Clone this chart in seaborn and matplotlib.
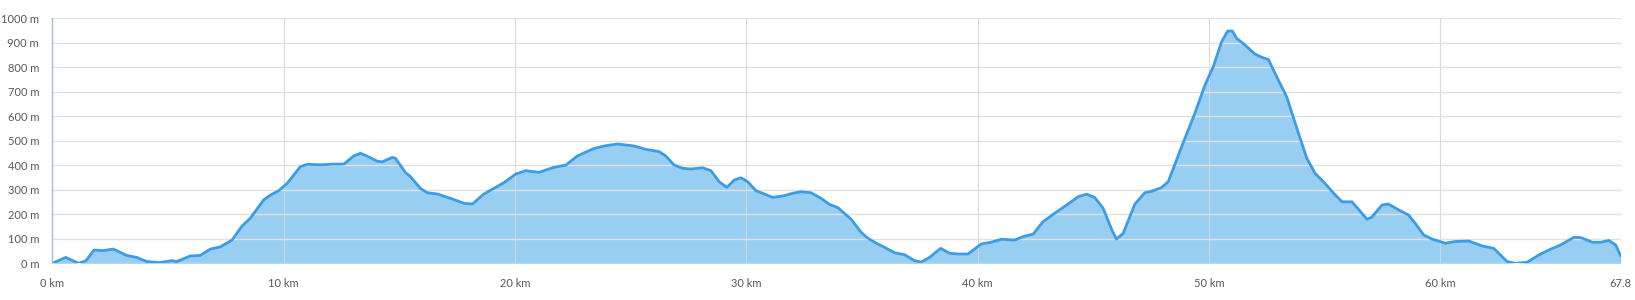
import matplotlib
matplotlib.use("Agg")
import matplotlib.pyplot as plt
import seaborn as sns
import pandas as pd

distance_km = [0.0, 0.58, 1.13, 1.45, 1.8, 2.2, 2.64, 3.22, 3.65, 4.09, 4.66, 5.17, 5.38, 5.96, 6.39,
               6.83, 7.26, 7.77, 8.2, 8.56, 9.13, 9.42, 9.78, 10.15, 10.72, 11.01, 11.6, 12.16, 12.6,
               13.03, 13.32, 13.6, 14.04, 14.26, 14.69, 14.83, 15.27, 15.48, 15.92, 16.21, 16.64, 17.22,
               17.79, 18.16, 18.66, 19.52, 20.03, 20.46, 21.04, 21.62, 22.2, 22.7, 23.42, 23.93, 24.43,
               25.15, 25.66, 26.23, 26.52, 26.88, 27.25, 27.6, 28.11, 28.47, 28.83, 29.16, 29.48, 29.77,
               30.06, 30.42, 30.78, 31.14, 31.65, 32.01, 32.37, 32.8, 33.23, 33.59, 33.96, 34.53, 34.97,
               35.26, 35.62, 35.98, 36.42, 36.84, 37.27, 37.56, 37.92, 38.4, 38.79, 39.15, 39.58, 40.16,
               40.59, 41.03, 41.6, 42.04, 42.4, 42.83, 43.33, 43.91, 44.35, 44.71, 45.06, 45.43, 45.79,
               46.0, 46.29, 46.8, 47.23, 47.52, 47.95, 48.24, 48.82, 49.39, 49.83, 50.19, 50.55, 50.81,
               51.01, 51.2, 51.56, 51.99, 52.28, 52.57, 53.0, 53.36, 53.87, 54.23, 54.59, 54.95, 55.39,
               55.75, 56.18, 56.47, 56.83, 57.04, 57.48, 57.76, 58.2, 58.63, 58.92, 59.28, 59.64, 60.22,
               60.65, 61.23, 61.81, 62.31, 62.89, 63.25, 63.75, 64.26, 64.69, 65.2, 65.78, 66.07, 66.57,
               66.93, 67.29, 67.58, 67.8]
elevation_m = [0, 24, 0, 10, 54, 52, 58, 32, 24, 7, 3, 11, 7, 30, 32,
               58, 67, 95, 152, 184, 258, 278, 296, 326, 394, 404, 402, 405, 405,
               438, 449, 438, 417, 414, 432, 429, 370, 354, 305, 288, 283, 265,
               245, 242, 283, 329, 364, 378, 371, 390, 401, 438, 469, 480, 487,
               479, 465, 456, 438, 401, 388, 385, 390, 378, 333, 310, 340, 349,
               333, 296, 283, 269, 276, 286, 292, 288, 265, 241, 227, 180, 126,
               102, 82, 65, 43, 35, 11, 5, 24, 61, 41, 38, 38, 79,
               86, 98, 95, 111, 119, 170, 204, 242, 272, 282, 269, 224, 139,
               99, 122, 242, 288, 294, 309, 333, 476, 612, 728, 803, 905, 948,
               948, 918, 891, 854, 841, 832, 748, 680, 531, 429, 367, 333, 286,
               251, 251, 220, 180, 188, 238, 242, 218, 197, 163, 116, 99, 82,
               89, 91, 71, 61, 7, 0, 4, 34, 54, 75, 106, 105, 86,
               86, 93, 75, 30]

x_ticks = [0, 10, 20, 30, 40, 50, 60, 67.8]
x_tick_labels = ["0 km", "10 km", "20 km", "30 km", "40 km", "50 km", "60 km", "67.8"]
y_ticks = [0, 100, 200, 300, 400, 500, 600, 700, 800, 900, 1000]
y_tick_labels = [f"{v} m" for v in y_ticks]

df = pd.DataFrame({"km": distance_km, "m": elevation_m})

sns.set_style("white")
plt.rcParams["font.family"] = ["Lato", "DejaVu Sans"]

fig = plt.figure(figsize=(16.35, 3.0), dpi=100)
ax = fig.add_axes([52.3 / 1635, 1 - 263.3 / 300, (1620.7 - 52.3) / 1635, (263.3 - 18.3) / 300])

ax.fill_between(df["km"], df["m"], 0, color="#99cef3", linewidth=0, zorder=2)
sns.lineplot(data=df, x="km", y="m", ax=ax, color="#3a9de6", linewidth=2.0, zorder=3)
for ln in ax.get_lines():
    ln.set_solid_joinstyle("round")
    ln.set_solid_capstyle("round")

ax.set_xlim(0, 67.8)
ax.set_ylim(0, 1000)
ax.set_xticks(x_ticks)
ax.set_xticklabels(x_tick_labels)
ax.set_yticks(y_ticks)
ax.set_yticklabels(y_tick_labels)
ax.set_xlabel("")
ax.set_ylabel("")

ax.grid(axis="y", color="#e1e1e1", linewidth=1.0, zorder=1)
ax.grid(axis="x", color="#d6d6d6", linewidth=0.8, zorder=4, alpha=0.9)
ax.set_axisbelow(False)
for s in ["top", "right", "bottom"]:
    ax.spines[s].set_visible(False)
ax.spines["left"].set_color("#a9bfd0")
ax.spines["left"].set_linewidth(1.0)
ax.spines["left"].set_zorder(5)

ax.tick_params(axis="both", length=6, width=1.0, color="#dcdcdc", labelsize=8.0, labelcolor="#595959")
ax.tick_params(axis="y", pad=3.5)
ax.tick_params(axis="x", pad=4.5)
ax.xaxis.get_major_ticks()[0].tick1line.set_color("#a9bfd0")

fig.savefig("out.png", dpi=100)
